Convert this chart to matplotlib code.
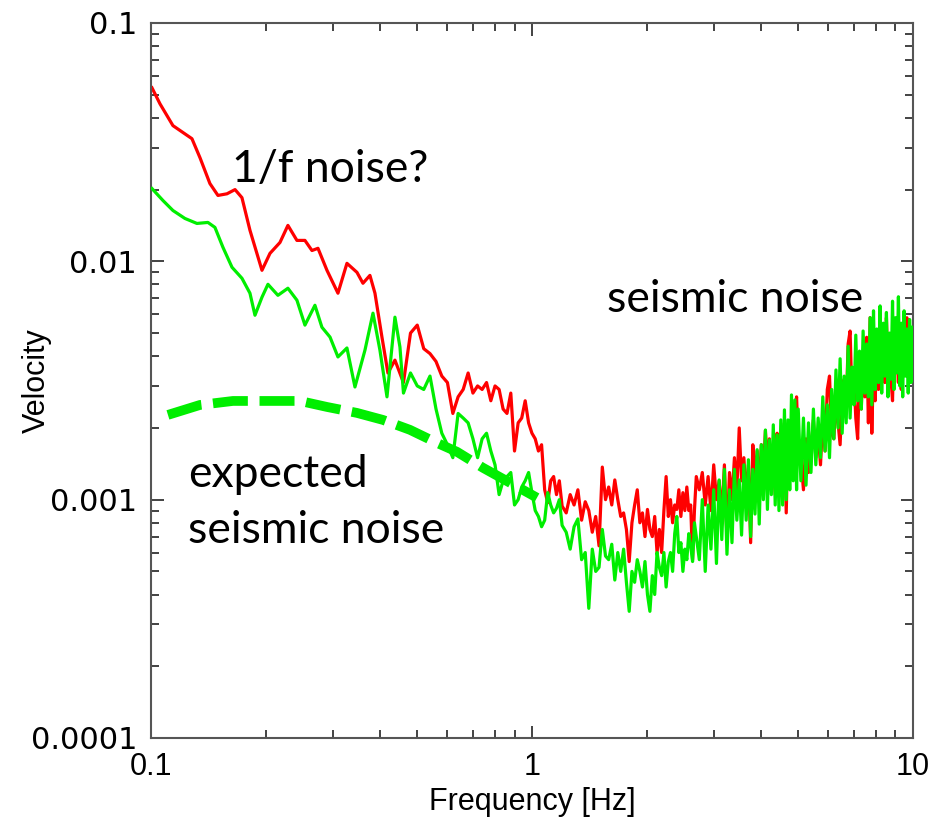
import matplotlib
matplotlib.use("Agg")
import matplotlib.pyplot as plt
from matplotlib.ticker import LogLocator, NullFormatter

plt.rcParams["font.family"] = ["Liberation Sans", "DejaVu Sans"]

# ── data ─────────────────────────────────────────────────────
# low-frequency part (smooth), each curve on its own points
RED_LOW_FREQ = [
    0.1006, 0.1056, 0.1142, 0.1213, 0.1281, 0.1345, 0.1428, 0.1499, 0.1583, 0.1662,
    0.1733, 0.1819, 0.1956, 0.2053, 0.2181, 0.2288, 0.2416, 0.2536, 0.2646, 0.2744,
    0.2897, 0.3096, 0.3269, 0.3473, 0.3601, 0.3756, 0.3872, 0.4039, 0.4188, 0.4369,
]
RED_LOW_VEL = [
    .0535, .0458, .0371, .0347, .0327, .0272, .0212, .0189, .0192, .0200,
    .0185, .0135, .00917, .0108, .0120, .01415, .01224, .01224, .0111, .01134,
    .00917, .00735, .00981, .00899, .00809, .00873, .00735, .00481, .0034, .00385,
]
GREEN_LOW_FREQ = [
    0.1006, 0.1075, 0.1142, 0.1228, 0.1320, 0.1411, 0.1472, 0.1545, 0.1632, 0.1733,
    0.1819, 0.1875, 0.1956, 0.2028, 0.2154, 0.2288, 0.2416, 0.2536, 0.2694, 0.2810,
    0.2951, 0.3096, 0.3269, 0.3431, 0.3645, 0.3826, 0.3990, 0.4164, 0.4369, 0.4503,
]
GREEN_LOW_VEL = [
    .0202, .0180, .01634, .01513, .01442, .01456, .01388, .01145, .00944, .00849,
    .00735, .00594, .00707, .00801, .0072, .00771, .00687, .0054, .00654, .00529,
    .00481, .00397, .00433, .00297, .00424, .00606, .00424, .0027, .00583, .00437,
]

# noisy part, shared frequency bins
HI_FREQ = [
    0.46, 0.48, 0.50, 0.52, 0.54, 0.56, 0.58, 0.60, 0.62, 0.64,
    0.66, 0.68, 0.70, 0.72, 0.74, 0.76, 0.78, 0.80, 0.82, 0.84,
    0.86, 0.88, 0.90, 0.92, 0.94, 0.96, 0.98, 1.00, 1.02, 1.04,
    1.06, 1.08, 1.10, 1.12, 1.14, 1.16, 1.18, 1.20,
    1.23, 1.26, 1.29, 1.32, 1.35, 1.38, 1.41, 1.44, 1.47, 1.50,
    1.53, 1.56, 1.59, 1.62, 1.65, 1.68, 1.71, 1.74, 1.77, 1.80,
    1.83, 1.86, 1.89, 1.92, 1.95, 1.98, 2.01, 2.04, 2.07, 2.10,
    2.13, 2.16, 2.19, 2.22, 2.25, 2.28, 2.31, 2.34, 2.37, 2.40,
    2.43, 2.46, 2.49, 2.52, 2.55, 2.58, 2.61, 2.64, 2.67, 2.70,
    2.75, 2.80, 2.85, 2.90, 2.95, 3.00, 3.05, 3.10, 3.15, 3.20,
    3.25, 3.30, 3.35, 3.40, 3.45, 3.50, 3.55, 3.60, 3.65, 3.70,
    3.75, 3.80, 3.85, 3.90, 3.95, 4.00, 4.05, 4.10, 4.15, 4.20,
    4.25, 4.30, 4.35, 4.40, 4.45, 4.50, 4.55, 4.60, 4.65, 4.70,
    4.75, 4.80, 4.85, 4.90, 4.95, 5.00,
    5.08, 5.16, 5.24, 5.32, 5.40, 5.48, 5.56, 5.64, 5.72, 5.80,
    5.88, 5.96, 6.04, 6.12, 6.20, 6.28, 6.36, 6.44, 6.52, 6.60,
    6.68, 6.76, 6.84, 6.92, 7.00, 7.08, 7.16, 7.24, 7.32, 7.40,
    7.48, 7.56, 7.64, 7.72, 7.80, 7.88, 7.96, 8.04, 8.12, 8.20,
    8.28, 8.36, 8.44, 8.52, 8.60, 8.68, 8.76, 8.84, 8.92, 9.00,
    9.08, 9.16, 9.24, 9.32, 9.40, 9.48, 9.56, 9.64, 9.72, 9.80,
    9.88, 9.96, 10.0,
]
RED_HI_VEL = [
    .0031, .0050, .0054, .0043, .0041, .0038, .0033, .0031, .0023, .0027,
    .0029, .0034, .0028, .0030, .0029, .0031, .0026, .0030, .0029, .0024,
    .0023, .0028, .0016, .0021, .0022, .0026, .0021, .0019, .0018, .0016,
    .0017, .0011, .00097, .0012, .00125, .00105, .0012, .00094,
    .00088, .00105, .00095, .0011, .00082, .00098, .0009, .00073, .00085, .00064,
    .00137, .0010, .00113, .00095, .00121, .001, .00085, .00088, .00075, .00055,
    .0008, .00095, .0011, .0008, .00088, .0007, .00091, .00075, .0007, .00085,
    .0006, .00075, .0006, .0009, .00125, .00085, .001, .0008, .00095, .00091,
    .0011, .00085, .00107, .0009, .00113, .0009, .00095, .00056, .0009, .00125,
    .0011, .0013, .00095, .00125, .0009, .0014, .001, .0012, .00085, .0014,
    .00068, .0013, .001, .0015, .0011, .002, .0012, .0015, .001, .0014,
    .00066, .0017, .0012, .0016, .0011, .0017, .0013, .00195, .0014, .0018,
    .0012, .0017, .00105, .0019, .0014, .0018, .0015, .0021, .00088, .0019,
    .0016, .0021, .0014, .0023, .0027, .0017,
    .0015, .0011, .0018, .0013, .0016, .00216, .0015, .0019, .0014, .0022,
    .0016, .0029, .0033, .0019, .0018, .0026, .0021, .0017, .0028, .0032,
    .0024, .0045, .0051, .0026, .0033, .0022, .0018, .0035, .0024, .0042,
    .0027, .0048, .0021, .0058, .0019, .0038, .0026, .0045, .0029, .0052,
    .0033, .0047, .0031, .0058, .0034, .0045, .0032, .0026, .0049, .0036,
    .0042, .0031, .0047, .0029, .0051, .0035, .0046, .0058, .0033, .0031,
    .0047, .0039, .0043,
]
GREEN_HI_VEL = [
    .0028, .0034, .0030, .0029, .0033, .0024, .0019, .0017, .0015, .0023,
    .0022, .0021, .0018, .0015, .0018, .0019, .0016, .0014, .00105, .0012,
    .00125, .0013, .00095, .0010, .00113, .0012, .0013, .00107, .0009, .00085,
    .00077, .00082, .00107, .00095, .00088, .00092, .001, .00078,
    .00073, .00062, .00077, .00083, .00056, .0006, .00035, .00062, .0005, .00052,
    .00075, .00058, .00056, .00065, .00046, .0006, .0005, .00062, .00045, .00034,
    .0005, .00045, .00056, .0005, .00043, .00055, .0004, .00034, .00048, .0004,
    .0006, .00052, .00048, .0006, .00043, .00055, .0006, .0005, .00072, .00085,
    .0006, .00066, .0005, .00062, .00056, .00072, .00064, .00055, .0008, .0007,
    .00056, .001, .0005, .00095, .00062, .0011, .00054, .00121, .00068, .00134,
    .00059, .0011, .00066, .00134, .00082, .00121, .00071, .0014, .00082, .00147,
    .0007, .00134, .00087, .00162, .00079, .0017, .001, .00196, .00091, .00178,
    .00105, .00206, .00095, .00187, .0009, .00216, .00095, .00238, .001, .00216,
    .0011, .00275, .0012, .00262, .0011, .0024,
    .0012, .0022, .00115, .0021, .0013, .0024, .0014, .0022, .0015, .0027,
    .0016, .0025, .0015, .0029, .0018, .0035, .002, .0039, .0019, .0033,
    .0021, .0044, .0022, .0036, .0025, .0049, .0026, .0042, .0024, .0051,
    .0028, .0045, .0027, .0058, .0025, .0062, .0029, .0052, .0031, .0065,
    .0028, .0055, .0033, .0061, .0027, .0050, .0032, .0068, .0029, .0058,
    .0034, .0071, .0030, .0055, .0027, .0062, .0033, .0052, .0028, .0057,
    .0031, .0053, .0045,
]

EXPECTED_FREQ = [0.1108, 0.1345, 0.1641, 0.2016, 0.2461, 0.2897, 0.3473,
                 0.4062, 0.4784, 0.5631, 0.6356, 0.7436, 0.8755, 1.031]
EXPECTED_VEL = [0.002268, 0.002497, 0.002595, 0.002595, 0.002595, 0.002449, 0.002312,
                0.002161, 0.001963, 0.001731, 0.001588, 0.001361, 0.001178, 0.001019]

X_TICKS = [0.1, 1, 10]
X_TICK_LABELS = ["0.1", "1", "10"]
Y_TICKS = [0.0001, 0.001, 0.01, 0.1]
Y_TICK_LABELS = ["0.0001", "0.001", "0.01", "0.1"]

RED = "#ff0000"
GREEN = "#00ee00"

fig = plt.figure(figsize=(9.4, 8.18), dpi=100)
ax = fig.add_axes([0.1606, 0.0978, 0.8106, 0.8741])

ax.plot(RED_LOW_FREQ + HI_FREQ, RED_LOW_VEL + RED_HI_VEL, color=RED, lw=2.3, zorder=2)
ax.plot(GREEN_LOW_FREQ + HI_FREQ, GREEN_LOW_VEL + GREEN_HI_VEL, color=GREEN, lw=2.3, zorder=3)
ax.plot(EXPECTED_FREQ, EXPECTED_VEL, color=GREEN, lw=7, dashes=(3.6, 1.2),
        dash_capstyle="butt", zorder=4)

ax.set_xscale("log")
ax.set_yscale("log")
ax.set_xlim(0.1, 10)
ax.set_ylim(1e-4, 0.1)
ax.set_xticks(X_TICKS, X_TICK_LABELS)
ax.set_yticks(Y_TICKS, Y_TICK_LABELS)
for axis in (ax.xaxis, ax.yaxis):
    axis.set_minor_locator(LogLocator(base=10, subs=range(2, 10)))
    axis.set_minor_formatter(NullFormatter())

ax.tick_params(which="both", direction="in", top=True, right=True, width=1.2, color="#222222")
ax.tick_params(which="major", length=9, labelsize=22, pad=10)
ax.tick_params(which="minor", length=5.5)
for lab in ax.get_yticklabels():
    lab.set_family(["DejaVu Sans"])
for s in ax.spines.values():
    s.set_linewidth(1.5)
    s.set_color("#555555")

ax.set_xlabel("Frequency [Hz]", fontsize=22)
ax.set_ylabel("Velocity", fontsize=22)
ax.xaxis.set_label_coords(0.5, -0.068)
ax.yaxis.set_label_coords(-0.13, 0.5)

# annotations
note = dict(fontsize=32, family=["Lato", "DejaVu Sans"], transform=ax.transAxes,
            ha="left", va="baseline")
ax.text(0.1063, 0.7776, "1/f noise?", **note)
ax.text(0.5984, 0.5958, "seismic noise", **note)
ax.text(0.0486, 0.351, "expected", **note)
ax.text(0.0486, 0.2727, "seismic noise", **note)

fig.savefig("out.png", dpi=100, facecolor="white")
